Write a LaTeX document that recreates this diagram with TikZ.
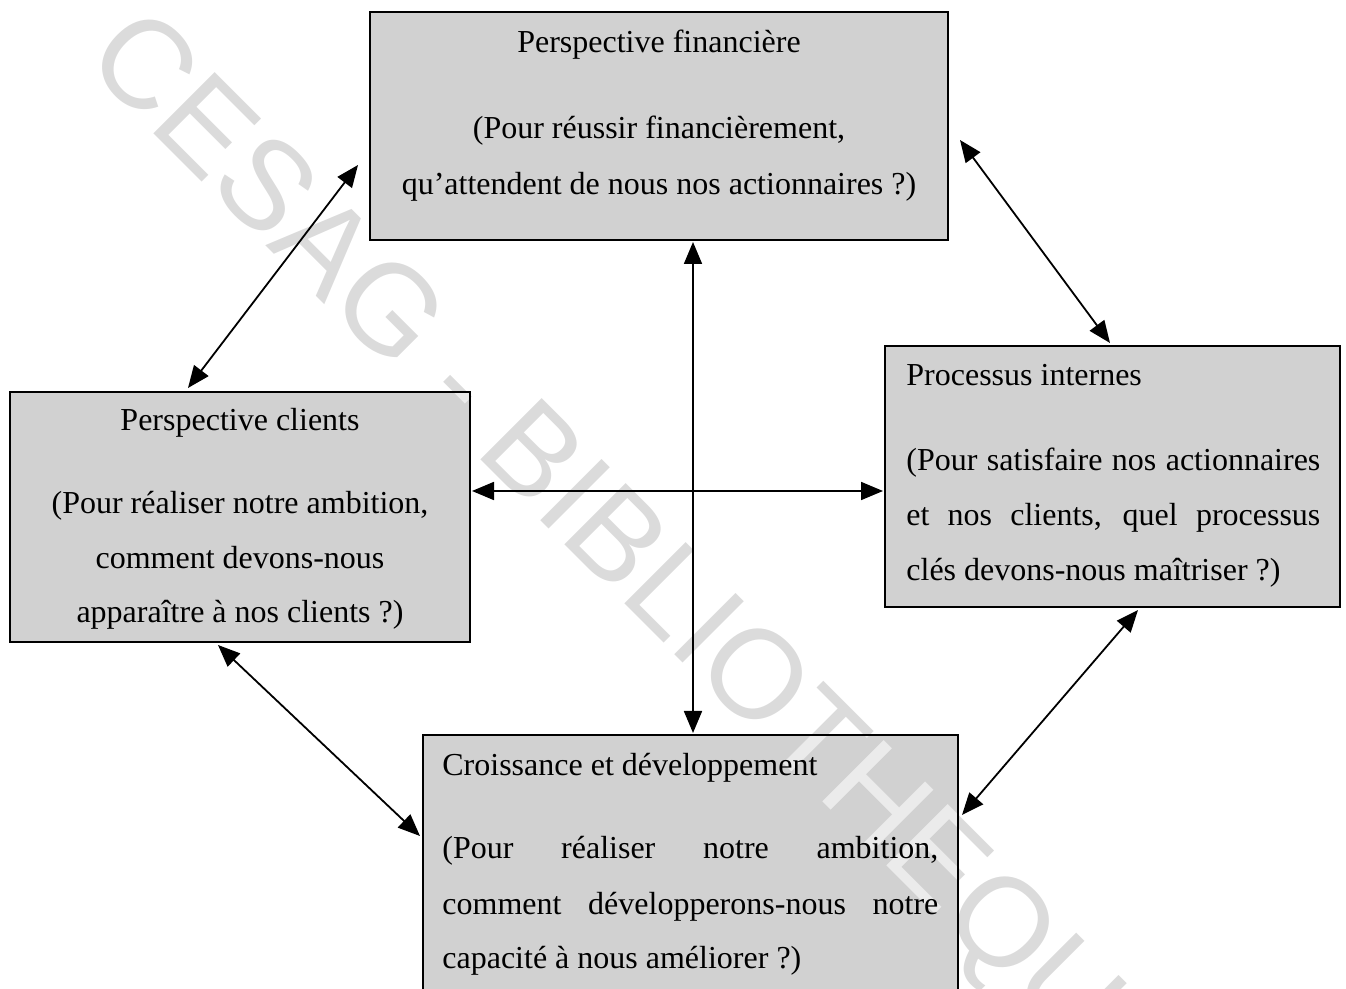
\documentclass[tikz,border=0pt]{standalone}
\usepackage{fontspec}
\setmainfont{Liberation Serif}
\newfontfamily\wmfont{Liberation Sans}
\usetikzlibrary{arrows.meta,calc}

\definecolor{boxgray}{gray}{0.82}
\definecolor{wmgray}{gray}{0.86}
\definecolor{wmlight}{gray}{0.92}

\tikzset{
  panel/.style={fill=boxgray, draw=none, inner sep=0pt, outer sep=0pt},
  frame/.style={draw=black, line width=1.2pt},
  label/.style={inner sep=0pt, font=\fontsize{16}{20}\selectfont},
  link/.style={line width=0.9pt, {Triangle[length=11pt,width=9pt]}-{Triangle[length=11pt,width=9pt]}},
  stamp/.style={inner sep=0pt, text=wmgray, font=\wmfont\fontsize{63}{63}\selectfont, rotate=-45}
}

\begin{document}
\begin{tikzpicture}[x=0.5pt,y=-0.5pt]
\useasboundingbox (0,0) rectangle (1346,989);

% the four perspective panels
\node[panel, minimum width=289pt,   minimum height=114pt]   (fin) at (659,126)    {};
\node[panel, minimum width=230pt,   minimum height=125pt]   (cli) at (240,517)    {};
\node[panel, minimum width=227.5pt, minimum height=130.5pt] (pro) at (1112.5,476.5) {};
\node[panel, minimum width=267.5pt, minimum height=132.5pt] (cro) at (690.5,867.5) {};

% library stamp across the page, paler where it crosses a panel
\node[stamp] (wm) at (630,564) {CESAG - BIBLIOTHEQUE};
\begin{scope}
  \clip (fin.north west) rectangle (fin.south east)
        (cli.north west) rectangle (cli.south east)
        (pro.north west) rectangle (pro.south east)
        (cro.north west) rectangle (cro.south east);
  \node[stamp, text=wmlight] (wm-in) at (630,564) {CESAG - BIBLIOTHEQUE};
\end{scope}

% panel outlines
\foreach \b in {fin,cli,pro,cro}
  \draw[frame] (\b.north west) rectangle (\b.south east);

% Perspective financiere
\node[label, anchor=base] (fin1) at (659,53)  {Perspective financière};
\node[label, anchor=base] (fin2) at (659,139) {(Pour réussir financièrement,};
\node[label, anchor=base] (fin3) at (659,195) {qu’attendent de nous nos actionnaires ?)};

% Perspective clients
\node[label, anchor=base] (cli1) at (240,431) {Perspective clients};
\node[label, anchor=base] (cli2) at (240,514) {(Pour réaliser notre ambition,};
\node[label, anchor=base] (cli3) at (240,569) {comment devons-nous};
\node[label, anchor=base] (cli4) at (240,623) {apparaître à nos clients ?)};

% Processus internes
\node[label, anchor=base west] (pro1) at (906,386) {Processus internes};
\node[label, anchor=base west] (pro2) at (906,471) {\makebox[207pt][s]{(Pour satisfaire nos actionnaires}};
\node[label, anchor=base west] (pro3) at (906,526) {\makebox[207pt][s]{et nos clients, quel processus}};
\node[label, anchor=base west] (pro4) at (906,581) {clés devons-nous maîtriser ?)};

% Croissance et developpement
\node[label, anchor=base west] (cro1) at (442,776) {Croissance et développement};
\node[label, anchor=base west] (cro2) at (442,859) {\makebox[248pt][s]{(Pour réaliser notre ambition,}};
\node[label, anchor=base west] (cro3) at (442,914) {\makebox[248pt][s]{comment développerons-nous notre}};
\node[label, anchor=base west] (cro4) at (442,969) {capacité à nous améliorer ?)};

% two-way links between the perspectives
\draw[link] ($(fin.north west)+(-12,153)$) -- ($(cli.north west)+(178,-4)$);
\draw[link] ($(fin.north east)+(12,128)$)  -- ($(pro.north west)+(225,-3)$);
\draw[link] ($(cli.south west)+(208,3)$)   -- ($(cro.north west)+(-3,101)$);
\draw[link] ($(pro.south west)+(253,3)$)   -- ($(cro.north east)+(4,80)$);
\draw[link] ($(fin.south west)+(323,2)$)   -- ($(cro.north west)+(270,-2)$);
\draw[link] ($(cli.north east)+(2,99)$)    -- ($(pro.north west)+(-2,145)$);
\end{tikzpicture}
\end{document}
